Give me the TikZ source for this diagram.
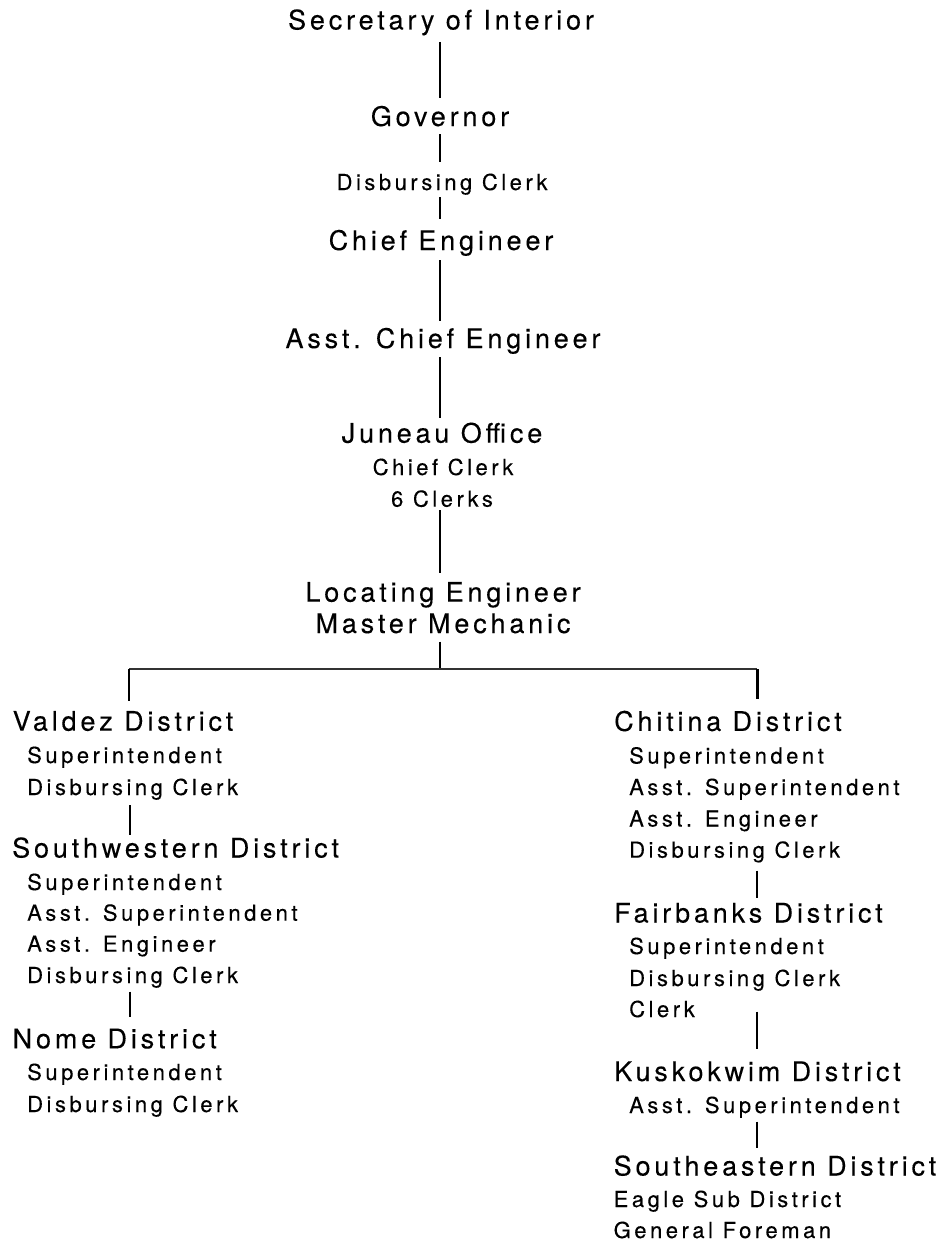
\documentclass[tikz,border=0pt]{standalone}
\usepackage{fontspec}
\setmainfont{TeX Gyre Heros}
\newfontfamily\bigf[LetterSpace=14.2,FakeBold=0.2]{TeX Gyre Heros}
\newfontfamily\smallf[LetterSpace=16,FakeBold=0.2]{TeX Gyre Heros}
\usetikzlibrary{calc}
\begin{document}
\begin{tikzpicture}[x=1pt,y=-1pt,
  big/.style={font={\fontsize{27pt}{30pt}\bigf}, inner sep=0pt},
  small/.style={font={\fontsize{22pt}{26pt}\smallf}, inner sep=0pt},
  conn/.style={draw=black, line width=1.4pt},
  thick conn/.style={draw=black, line width=2.4pt},
  hline/.style={draw=black!80, line width=2pt}]
\useasboundingbox (0,0) rectangle (952,1247);
\fill[white] (0,0) rectangle (952,1247);
% centre column
\node[big, anchor=base] (sec) at (441,29.5) {Secretary of Interior};
\node[big, anchor=base] (gov) at (440,126) {Governor};
\node[small, anchor=base] (disb) at (442,190) {Disbursing Clerk};
\node[big, anchor=base] (chief) at (441,250) {Chief Engineer};
\node[big, anchor=base] (asst) at (443,348) {Asst. Chief Engineer};
\node[big, anchor=base] (juneau) at (442,442.7) {Juneau Office};
\node[small, anchor=base] (cclerk) at (443,475) {Chief Clerk};
\node[small, anchor=base] (clerks) at (442,506.7) {6 Clerks};
\node[big, anchor=base] (loc) at (443,601.7) {Locating Engineer};
\node[big, anchor=base] (mech) at (443,633) {Master Mechanic};
\coordinate (mx) at (440,0);
\coordinate (hm) at (440,669);
\coordinate (hl) at (129,669);
\coordinate (hr) at (757,669);
\coordinate (lx) at (130,0);
\coordinate (rx) at (757,0);
% left column
\node[big, anchor=base west] (valdez) at (12.5,730.7) {Valdez District};
\node[small, anchor=base west] (v1) at (27,763) {Superintendent};
\node[small, anchor=base west] (v2) at (27,795) {Disbursing Clerk};
\node[big, anchor=base west] (sw) at (12,857.5) {Southwestern District};
\node[small, anchor=base west] (s1) at (27,890) {Superintendent};
\node[small, anchor=base west] (s2) at (27,920.7) {Asst. Superintendent};
\node[small, anchor=base west] (s3) at (27,951.7) {Asst. Engineer};
\node[small, anchor=base west] (s4) at (27,983) {Disbursing Clerk};
\node[big, anchor=base west] (nome) at (12.5,1048.3) {Nome District};
\node[small, anchor=base west] (n1) at (27,1080) {Superintendent};
\node[small, anchor=base west] (n2) at (27,1112) {Disbursing Clerk};
% right column
\node[big, anchor=base west] (chitina) at (614,730.9) {Chitina District};
\node[small, anchor=base west] (c1) at (629,763.5) {Superintendent};
\node[small, anchor=base west] (c2) at (629,795) {Asst. Superintendent};
\node[small, anchor=base west] (c3) at (629,826.5) {Asst. Engineer};
\node[small, anchor=base west] (c4) at (629,857.7) {Disbursing Clerk};
\node[big, anchor=base west] (fair) at (614,922.5) {Fairbanks District};
\node[small, anchor=base west] (f1) at (629,954) {Superintendent};
\node[small, anchor=base west] (f2) at (629,986) {Disbursing Clerk};
\node[small, anchor=base west] (f3) at (629,1017) {Clerk};
\node[big, anchor=base west] (kus) at (614,1081) {Kuskokwim District};
\node[small, anchor=base west] (k1) at (629,1113) {Asst. Superintendent};
\node[big, anchor=base west] (se) at (613.5,1175.5) {Southeastern District};
\node[small, anchor=base west] (e1) at (613.5,1207) {Eagle Sub District};
\node[small, anchor=base west] (e2) at (613.5,1238) {General Foreman};
% centre connectors
\draw[conn] ($(sec.base -| mx)+(0,12.5)$) -- ($(gov.base -| mx)+(0,-28)$);
\draw[conn] ($(gov.base -| mx)+(0,8)$) -- ($(disb.base -| mx)+(0,-28)$);
\draw[conn] ($(disb.base -| mx)+(0,7)$) -- ($(chief.base -| mx)+(0,-31)$);
\draw[thick conn] ($(chief.base -| mx)+(0,10)$) -- ($(asst.base -| mx)+(0,-27)$);
\draw[conn] ($(asst.base -| mx)+(0,9)$) -- ($(juneau.base -| mx)+(0,-24.7)$);
\draw[conn] ($(clerks.base -| mx)+(0,3.3)$) -- ($(loc.base -| mx)+(0,-28.7)$);
\draw[conn] ($(mech.base -| mx)+(0,8.5)$) -- (hm);
\draw[hline] (hl) -- (hr);
\draw[conn, line width=1.8pt] (hl) -- ($(valdez.base -| hl)+(0,-30)$);
\draw[thick conn, line width=3pt] (hr) -- ($(chitina.base -| hr)+(0,-32)$);
% left connectors
\draw[conn] ($(v2.base -| lx)+(0,10)$) -- ($(sw.base -| lx)+(0,-22.5)$);
\draw[conn] ($(s4.base -| lx)+(0,8.7)$) -- ($(nome.base -| lx)+(0,-31.6)$);
% right connectors
\draw[conn] ($(c4.base -| rx)+(0,13)$) -- ($(fair.base -| rx)+(0,-24.5)$);
\draw[thick conn] ($(f3.base -| rx)+(0,-5.5)$) -- ($(kus.base -| rx)+(0,-32)$);
\draw[thick conn] ($(k1.base -| rx)+(0,8.6)$) -- ($(se.base -| rx)+(0,-27.5)$);
\end{tikzpicture}
\end{document}
